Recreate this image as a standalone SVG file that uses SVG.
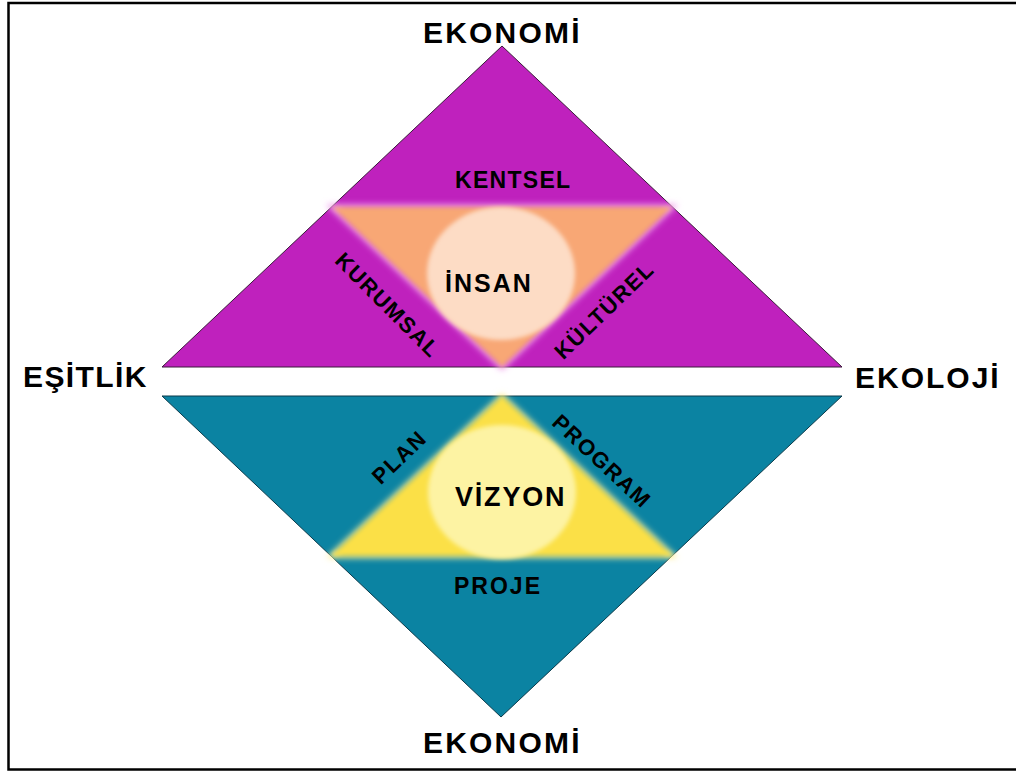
<svg xmlns="http://www.w3.org/2000/svg" width="1016" height="771" viewBox="0 0 1016 771">
<style>
  text { font-family: "Liberation Sans", Arial, sans-serif; font-weight: bold; fill: #000; }
  .big { font-size: 30px; }
  .mid { font-size: 23px; }
  .rot { font-size: 22px; letter-spacing: 1.5px; }
</style>
<defs>
  <filter id="soft" x="-10%" y="-10%" width="120%" height="120%">
    <feGaussianBlur stdDeviation="2"/>
  </filter>
  <filter id="glow" x="-20%" y="-20%" width="140%" height="140%">
    <feGaussianBlur stdDeviation="3"/>
  </filter>
</defs>
<rect x="0" y="0" width="1016" height="771" fill="#ffffff"/>
<path d="M1016 3 H8.5 V769.5 H1016" fill="none" stroke="#000" stroke-width="2.5"/>

<g id="top-triangle">
  <polygon points="502,46 162,367 842,367" fill="#BF21BD" stroke="#3a1a3a" stroke-width="1"/>
  <polygon points="332,207 672,207 502,367" fill="none" stroke="#F0A0F0" stroke-width="5" filter="url(#glow)"/>
  <polygon points="332,207 672,207 502,367" fill="#F8A774" filter="url(#soft)"/>
  <ellipse cx="501" cy="273.5" rx="74" ry="66.5" fill="#FDDCC5" filter="url(#soft)"/>
</g>

<g id="bottom-triangle">
  <polygon points="162,396 842,396 501,717" fill="#0B83A2" stroke="#0a3a4a" stroke-width="1"/>
  <polygon points="502,396 331,556 673,556" fill="none" stroke="#FFF2A0" stroke-width="4" filter="url(#glow)"/>
  <polygon points="502,396 331,556 673,556" fill="#FBE047" filter="url(#soft)"/>
  <ellipse cx="502" cy="492" rx="74" ry="67" fill="#FDF3A3" filter="url(#soft)"/>
</g>

<g id="labels">
  <text class="big" x="423" y="43" letter-spacing="2.2">EKONOMİ</text>
  <text class="big" x="423" y="753" letter-spacing="2.2">EKONOMİ</text>
  <text class="big" x="23" y="387" letter-spacing="1.4">EŞİTLİK</text>
  <text class="big" x="855" y="388" letter-spacing="2">EKOLOJİ</text>
  <text class="mid" x="455" y="188" font-size="24" letter-spacing="1.3">KENTSEL</text>
  <text class="mid" x="454" y="594" letter-spacing="2">PROJE</text>
  <text x="445" y="292" font-size="25" letter-spacing="2">İNSAN</text>
  <text x="455" y="506" font-size="27" letter-spacing="1.8">VİZYON</text>
  <text class="rot" x="0" y="0" text-anchor="middle" dy="0.36em" transform="translate(388,305) rotate(45)">KURUMSAL</text>
  <text class="rot" x="0" y="0" text-anchor="middle" dy="0.36em" transform="translate(604,310) rotate(-44)">KÜLTÜREL</text>
  <text class="rot" x="0" y="0" text-anchor="middle" dy="0.36em" transform="translate(399,457) rotate(-44)">PLAN</text>
  <text class="rot" x="0" y="0" text-anchor="middle" dy="0.36em" transform="translate(602,461) rotate(43)">PROGRAM</text>
</g>
</svg>
